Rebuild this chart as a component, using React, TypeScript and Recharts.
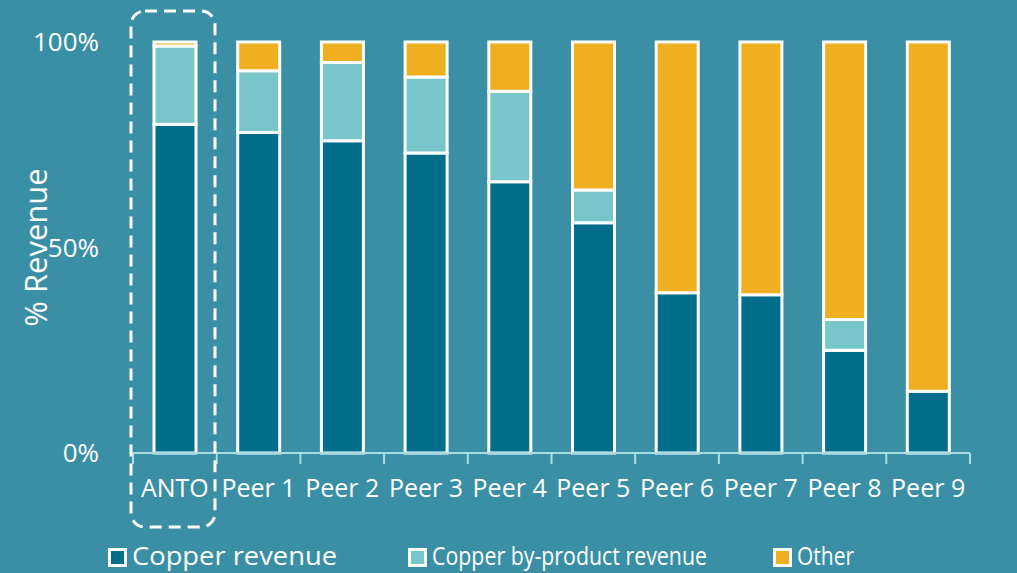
import { BarChart, Bar, XAxis, YAxis, Legend } from "recharts";

const categories = ["ANTO", "Peer 1", "Peer 2", "Peer 3", "Peer 4", "Peer 5", "Peer 6", "Peer 7", "Peer 8", "Peer 9"];
const copperRevenue = [80, 78, 76, 73, 66, 56, 39, 38.5, 25, 15];
const byProductRevenue = [19, 15, 19, 18.5, 22, 8, 0, 0, 7.5, 0];
const otherRevenue = [1, 7, 5, 8.5, 12, 36, 61, 61.5, 67.5, 85];
const yTicks = [0, 50, 100];

const BG = "#3A8FA5";
const FONT = "'Open Sans', sans-serif";

const series = [
    { key: "copper", name: "Copper revenue", color: "#006E8A" },
    { key: "byproduct", name: "Copper by-product revenue", color: "#79C6CA" },
    { key: "other", name: "Other", color: "#F0AE21" },
];

const chartData = categories.map((name, i) => ({
    name,
    copper: copperRevenue[i],
    byproduct: byProductRevenue[i],
    other: otherRevenue[i],
}));

// category label + tick marks on the band boundaries
const CategoryTick = (props: any) => {
    const { x, y, payload, index } = props;
    const half = payload.offset ?? 0;
    return (
        <g>
            <line x1={x - half} x2={x - half} y1={y - 8} y2={y + 3} stroke="#A6DDE5" strokeWidth={2} />
            {index === categories.length - 1 && (
                <line x1={x + half} x2={x + half} y1={y - 8} y2={y + 3} stroke="#A6DDE5" strokeWidth={2} />
            )}
            <text x={x} y={y + 36} textAnchor="middle" fill="#fff" fontSize={25} fontFamily={FONT}>
                {payload.value}
            </text>
        </g>
    );
};

// legend as in the original slide (item spots and text widths)
const legendX = [108, 408, 773];
const legendTextW = [205, 275, 57];

const renderLegend = () => (
    <svg width={1017} height={40} style={{ display: "block" }}>
        {series.map((s, i) => (
            <g key={s.key}>
                <rect x={legendX[i] + 1.5} y={16.5} width={16} height={16} fill={s.color} stroke="#fff" strokeWidth={3} />
                <text
                    x={legendX[i] + 24}
                    y={32}
                    fill="#fff"
                    fontSize={25}
                    fontFamily={FONT}
                    textLength={legendTextW[i]}
                    lengthAdjust="spacingAndGlyphs"
                >
                    {s.name}
                </text>
            </g>
        ))}
    </svg>
);

export default function App() {
    return (
        <div style={{ position: "absolute", left: 0, top: 0, width: 1017, height: 573, background: BG, overflow: "hidden" }}>
            <BarChart
                width={1017}
                height={573}
                data={chartData}
                margin={{ top: 42, right: 47, left: 0, bottom: 0 }}
                barSize={42}
            >
                <XAxis
                    dataKey="name"
                    height={80}
                    axisLine={{ stroke: "#A6DDE5", strokeWidth: 2 }}
                    tickLine={false}
                    tick={<CategoryTick />}
                    interval={0}
                />
                <YAxis
                    width={133}
                    domain={[0, 100]}
                    ticks={yTicks}
                    axisLine={false}
                    tickLine={false}
                    tickFormatter={(v) => `${v}%`}
                    tick={{ fill: "#fff", fontSize: 26, fontFamily: FONT }}
                    tickMargin={28}
                    label={{ value: "% Revenue", angle: -90, position: "insideLeft", offset: 36, fill: "#fff", fontSize: 31, fontFamily: FONT, style: { textAnchor: "middle" } }}
                />
                <Legend verticalAlign="bottom" content={renderLegend} wrapperStyle={{ height: 40, left: 0, width: 1017 }} />
                {series.map((s) => (
                    <Bar key={s.key} dataKey={s.key} name={s.name} stackId="a" fill={s.color} stroke="#fff" strokeWidth={3} isAnimationActive={false} />
                ))}
            </BarChart>
            <svg width={1017} height={573} style={{ position: "absolute", left: 0, top: 0, pointerEvents: "none" }}>
                <rect x={131} y={11} width={84} height={516} rx={14} ry={14} fill="none" stroke="#fff" strokeWidth={3} strokeDasharray="12 7" />
            </svg>
        </div>
    );
}
